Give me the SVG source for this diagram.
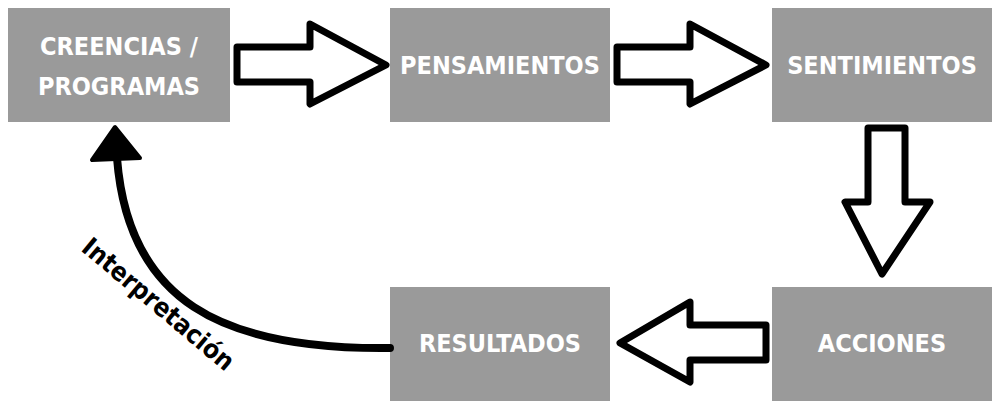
<svg xmlns="http://www.w3.org/2000/svg" width="1000" height="414" viewBox="0 0 1000 414">
<style>
.box{fill:#9a9a9a}
.t{fill:#fff;font-family:"DejaVu Sans",sans-serif;font-stretch:condensed;font-weight:bold;font-size:25px;text-anchor:middle}
.ar{fill:#fff;stroke:#000;stroke-width:7;stroke-linejoin:round}
</style>
<rect width="1000" height="414" fill="#fff"/>
<g id="creencias"><rect class="box" x="8" y="8" width="222" height="114"/><text class="t" x="119" y="55">CREENCIAS /</text><text class="t" x="119" y="95">PROGRAMAS</text></g>
<g id="pensamientos"><rect class="box" x="390" y="8" width="220" height="114"/><text class="t" x="500" y="74">PENSAMIENTOS</text></g>
<g id="sentimientos"><rect class="box" x="772" y="8" width="220" height="114"/><text class="t" x="882" y="74">SENTIMIENTOS</text></g>
<g id="resultados"><rect class="box" x="390" y="287" width="220" height="114"/><text class="t" x="500" y="352">RESULTADOS</text></g>
<g id="acciones"><rect class="box" x="772" y="287" width="220" height="114"/><text class="t" x="882" y="352">ACCIONES</text></g>
<g id="connectors">
<polygon class="ar" points="237,47 310,47 310,24 386,65 310,104 310,82 237,82"/>
<polygon class="ar" points="617,47 690,47 690,24 766,65 690,104 690,82 617,82"/>
<polygon class="ar" points="868,128 905,128 905,202 930,202 882,274 845,202 868,202"/>
<polygon class="ar" points="766,325 690,325 690,302 620,343 690,382 690,360 766,360"/>
<path d="M390,348 C220,350 128,300 117,158" fill="none" stroke="#000" stroke-width="8" stroke-linecap="round"/>
<polygon points="115,127 92,160 140,158" fill="#000" stroke="#000" stroke-width="4" stroke-linejoin="round"/>
<text x="0" y="0" transform="translate(80,250) rotate(40)" style="font-family:'DejaVu Sans',sans-serif;font-stretch:condensed;font-weight:bold;font-size:26px;fill:#000">Interpretación</text>
</g>
</svg>
